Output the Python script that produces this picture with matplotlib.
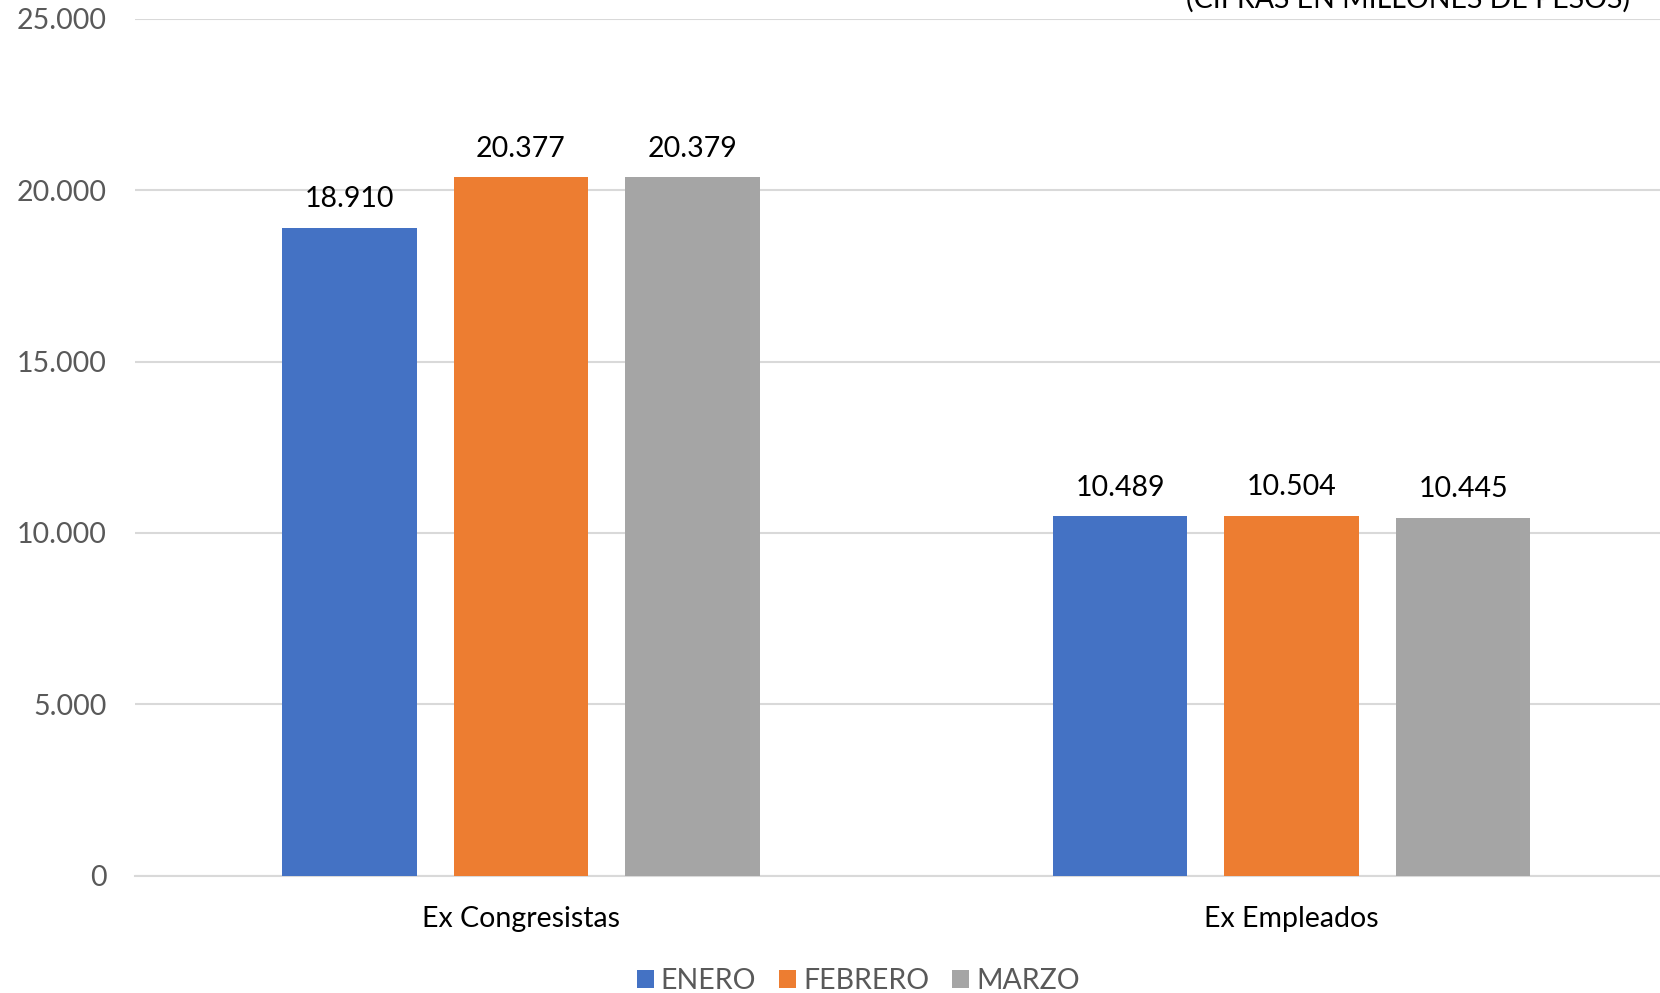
import matplotlib
matplotlib.use("Agg")
import matplotlib.pyplot as plt
import numpy as np

categories = ["Ex Congresistas", "Ex Empleados"]
months = ["ENERO", "FEBRERO", "MARZO"]
enero = [18910, 10489]
febrero = [20377, 10504]
marzo = [20379, 10445]
colors = ["#4472C4", "#ED7D31", "#A5A5A5"]
yticks = [0, 5000, 10000, 15000, 20000, 25000]

plt.rcParams['font.family'] = ['Lato', 'DejaVu Sans']

fig = plt.figure(figsize=(16.6, 9.93), dpi=100)
ax = fig.add_axes([0.0816, 0.1183, 0.9286, 0.8627])

x = np.arange(len(categories))
width = 0.1745
step = 0.2225
for i, (vals, name) in enumerate(zip([enero, febrero, marzo], months)):
    bars = ax.bar(x + (i - 1) * step, vals, width, color=colors[i], label=name, zorder=3)
    for b, v in zip(bars, vals):
        lbl = f"{v:,}".replace(",", ".")
        ax.annotate(lbl, (b.get_x() + b.get_width() / 2, v), xytext=(0, 11),
                    textcoords="offset points", ha="center", va="bottom",
                    fontsize=20.5, color="#000000")

ax.set_xlim(-0.5, 1.5)
ax.set_ylim(0, 25000)
ax.set_yticks(yticks)
ax.set_yticklabels([f"{t:,}".replace(",", ".") for t in yticks], fontsize=20.5, color="#595959")
ax.set_xticks(x)
ax.set_xticklabels(categories, fontsize=20.5, color="#000000")
ax.tick_params(axis="both", length=0)
ax.tick_params(axis="y", pad=21)
ax.tick_params(axis="x", pad=22)
ax.grid(axis="y", color="#D9D9D9", linewidth=1.5, zorder=0)
for s in ["top", "right", "left"]:
    ax.spines[s].set_visible(False)
ax.spines["bottom"].set_color("#D9D9D9")
ax.spines["bottom"].set_linewidth(1.5)

fig.legend(loc="center", bbox_to_anchor=(0.517, 0.012), ncol=3, frameon=False,
           fontsize=20.5, labelcolor="#595959", handlelength=0.6, handleheight=0.6,
           handletextpad=0.25, columnspacing=0.8)

fig.text(0.982, 1 - 7.5 / 993, "(CIFRAS EN MILLONES DE PESOS)", ha="right", va="baseline",
         fontsize=20.5, color="#000000")

fig.savefig("out.png", dpi=100)
